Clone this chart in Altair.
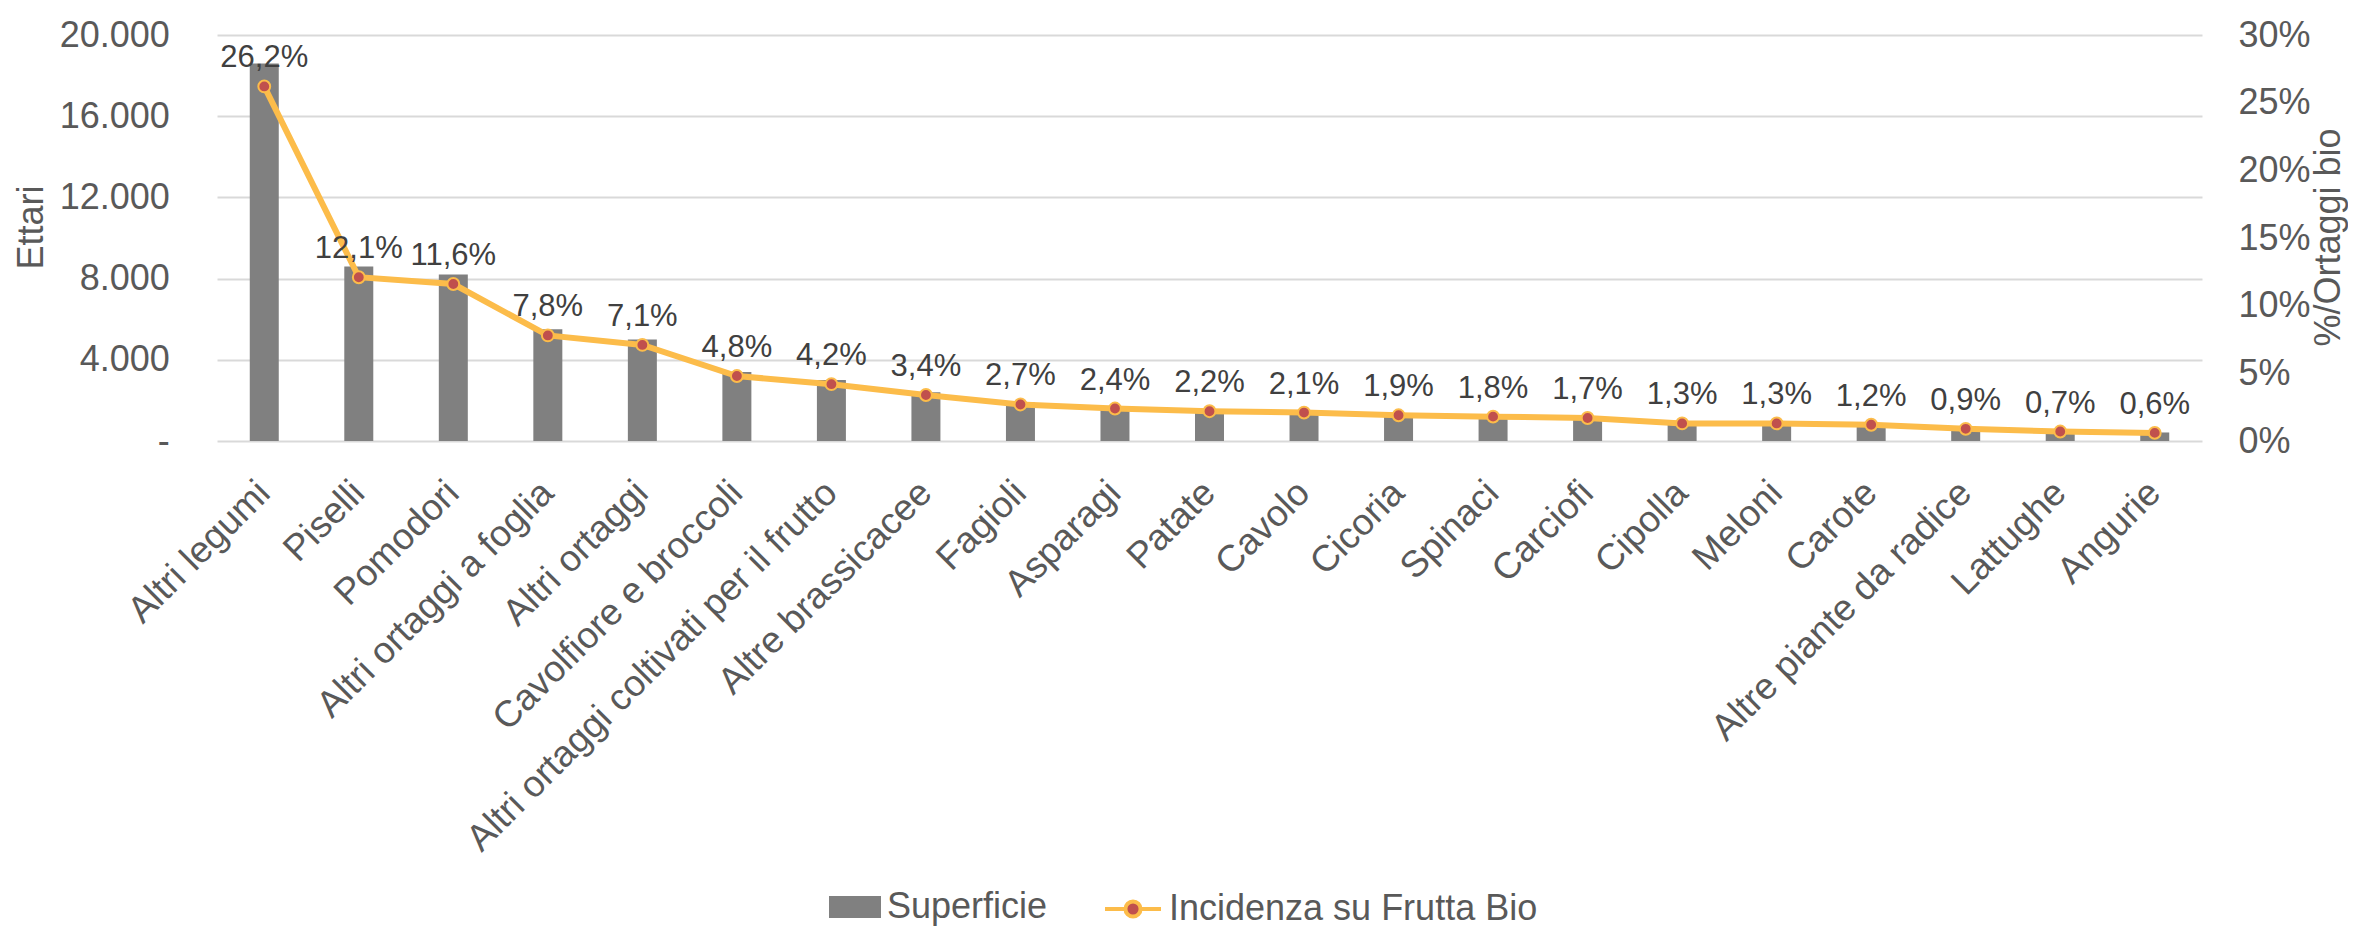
import altair as alt
import pandas as pd

FONT = "Liberation Sans"

categorie = [
    "Altri legumi", "Piselli", "Pomodori", "Altri ortaggi a foglia", "Altri ortaggi",
    "Cavolfiore e broccoli", "Altri ortaggi coltivati per il frutto", "Altre brassicacee",
    "Fagioli", "Asparagi", "Patate", "Cavolo", "Cicoria", "Spinaci", "Carciofi",
    "Cipolla", "Meloni", "Carote", "Altre piante da radice", "Lattughe", "Angurie",
]
superficie = [18600, 8600, 8200, 5500, 5000, 3400, 3000, 2400, 1900, 1700, 1550,
              1480, 1350, 1280, 1200, 920, 900, 850, 640, 500, 420]
incidenza = [26.2, 12.1, 11.6, 7.8, 7.1, 4.8, 4.2, 3.4, 2.7, 2.4, 2.2, 2.1, 1.9,
             1.8, 1.7, 1.3, 1.3, 1.2, 0.9, 0.7, 0.6]
serie = ["Superficie", "Incidenza su Frutta Bio"]
tick_sx = [0, 4000, 8000, 12000, 16000, 20000]
tick_dx = [0, 5, 10, 15, 20, 25, 30]

df = pd.DataFrame({"categoria": categorie, "superficie": superficie, "incidenza": incidenza})
df["etichetta"] = [f"{v:.1f}".replace(".", ",") + "%" for v in incidenza]
df["serie_b"] = serie[0]
df["serie_l"] = serie[1]

x_enc = alt.X(
    "categoria:N", sort=categorie,
    scale=alt.Scale(paddingInner=0, paddingOuter=0),
    axis=alt.Axis(title=None, labelAngle=-45, labelAlign="right", labelBaseline="middle",
                  labelFontSize=37, labelColor="#595959", labelPadding=46, labelLimit=1000,
                  labelOverlap=False, ticks=False, tickSize=0, domain=False, grid=False),
)

RECT = "M-1,-0.42H1V0.42H-1Z"
LINE_DOT = ("M-1,0H-0.27M0.27,0H1M0.27,0A0.27,0.27,0,1,1,-0.27,0"
            "A0.27,0.27,0,1,1,0.27,0Z")

asse_dx = alt.Axis(orient="right", title="%/Ortaggi bio", values=tick_dx,
                   labelExpr="datum.value + '%'",
                   labelFontSize=36, labelColor="#595959", labelPadding=36,
                   ticks=False, tickSize=0, domain=False, grid=False,
                   titleFontSize=36, titleColor="#595959", titleFontWeight="normal",
                   titleAngle=270, titleX=126, titleY=202, titleBaseline="middle",
                   titleAlign="center")
scala_dx = alt.Scale(domain=[0, 30], nice=False)

bars = alt.Chart(df).mark_bar(size=29).encode(
    x=x_enc,
    y=alt.Y("superficie:Q", scale=alt.Scale(domain=[0, 20000], nice=False),
            axis=alt.Axis(title="Ettari", values=tick_sx,
                          labelExpr="datum.value == 0 ? '-\u00a0\u00a0' : replace(format(datum.value, ','), ',', '.')",
                          labelFontSize=36, labelColor="#595959", labelPadding=47.7,
                          ticks=False, tickSize=0, domain=False, grid=True,
                          gridColor="#D9D9D9", gridWidth=2,
                          titleFontSize=36, titleColor="#595959", titleFontWeight="normal",
                          titleAngle=270, titleX=-186, titleY=192, titleBaseline="middle",
                          titleAlign="center")),
    color=alt.Color("serie_b:N", scale=alt.Scale(domain=[serie[0]], range=["#808080"]),
                    legend=alt.Legend(title=None, orient="none", legendX=612, legendY=846,
                                      direction="horizontal", labelFontSize=36,
                                      labelColor="#595959", labelFont=FONT, labelLimit=1000,
                                      symbolType=RECT, symbolSize=2704, symbolStrokeWidth=0,
                                      labelOffset=6, padding=0)),
)

linea = alt.Chart(df).mark_line(
    strokeWidth=6,
    point=alt.OverlayMarkDef(filled=True, fill="#C0504D", stroke="#FCBC4A",
                             strokeWidth=2, size=140, opacity=1),
).encode(
    x=x_enc,
    y=alt.Y("incidenza:Q", scale=scala_dx, axis=asse_dx),
    stroke=alt.Stroke("serie_l:N", scale=alt.Scale(domain=[serie[1]], range=["#FCBC4A"]),
                      legend=alt.Legend(title=None, orient="none", legendX=886, legendY=844,
                                        direction="horizontal", labelFontSize=36,
                                        labelColor="#595959", labelFont=FONT, labelLimit=1000,
                                        symbolType=LINE_DOT, symbolSize=3136,
                                        symbolStrokeWidth=4, symbolFillColor="#C0504D",
                                        labelOffset=6, padding=0)),
)

testo = alt.Chart(df).mark_text(
    fontSize=31, color="#404040", baseline="alphabetic", dy=-19, font=FONT
).encode(
    x=x_enc,
    y=alt.Y("incidenza:Q", scale=scala_dx, axis=asse_dx),
    text="etichetta:N",
)

destra = alt.layer(linea, testo)

chart = alt.layer(bars, destra).resolve_scale(y="independent").properties(
    width=1985, height=406,
    autosize=alt.AutoSizeParams(type="none"),
    padding={"left": 209, "top": 27, "right": 146, "bottom": 488},
    background="white",
).configure(font=FONT).configure_view(stroke=None)

chart.save("out.html", embed_options={"renderer": "svg", "actions": False})
